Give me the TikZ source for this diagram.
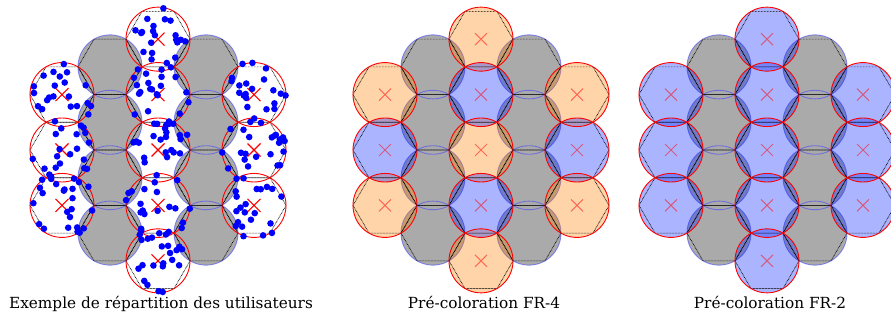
\documentclass[tikz,border=0pt]{standalone}
\usepackage{fontspec}
\usepackage{graphicx}
\newfontfamily\capfont{DejaVu Serif}
\definecolor{cellgray}{RGB}{170,170,170}
\definecolor{fillblue}{rgb}{0.0,0.12,1.0}
\definecolor{fillorange}{rgb}{1.0,0.5,0.0}
\tikzset{
  graycirc/.style={fill=cellgray},
  grayring/.style={draw=blue!75!white, draw opacity=0.55, line width=0.9pt},
  grayhex/.style={fill=cellgray},
  hexedge/.style={draw=black, line width=0.7pt, dash pattern=on 0.7pt off 0.8pt},
  orangecirc/.style={fill=fillorange, fill opacity=0.34},
  bluecirc/.style={fill=fillblue, fill opacity=0.33},
  redcirc/.style={draw=red, line width=0.9pt},
  softx/.style={draw=red, draw opacity=0.5, line width=1pt},
  hardx/.style={draw=red, line width=1.1pt},
  userdot/.style={fill=blue},
  caption/.style={anchor=base, inner sep=0pt, font=\capfont\fontsize{15.3}{18}\selectfont},
}
\newcommand{\hexat}[2]{(#1+32,#2) -- (#1+16,#2+27.713) -- (#1-16,#2+27.713) -- (#1-32,#2) -- (#1-16,#2-27.713) -- (#1+16,#2-27.713) -- cycle}
\def\graylist{48/-83.14, 48/-27.71, 48/27.71, 48/83.14, -48/-83.14, -48/-27.71, -48/27.71, -48/83.14}
\def\orangelist{0/-110.85, 0/0, 0/110.85, 96/-55.43, 96/55.43, -96/-55.43, -96/55.43}
\def\bluelist{0/-55.43, 0/55.43, 96/0, -96/0}
\def\colorlist{0/-110.85, 0/-55.43, 0/0, 0/55.43, 0/110.85, 96/-55.43, 96/0, 96/55.43, -96/-55.43, -96/0, -96/55.43}
\begin{document}
\begin{tikzpicture}[x=1pt,y=-1pt]
\useasboundingbox (0,0) rectangle (891,320);
\clip (0,0) rectangle (891,320);
% ---------- common gray cells for all three panels ----------
\foreach \px in {158,481,767}{
  \begin{scope}[shift={(\px,150)}]
    \foreach \dx/\dy in \graylist { \path[graycirc] (\dx,\dy) circle[radius=32pt]; }
    \foreach \dx/\dy in \graylist { \path[grayhex] \hexat{\dx}{\dy}; }
    \foreach \dx/\dy in \graylist { \path[grayring] (\dx,\dy) circle[radius=32pt]; }
  \end{scope}
}
% ---------- panel 2 : FR-4 ----------
\begin{scope}[shift={(481,150)}]
  \foreach \dx/\dy in \orangelist { \path[orangecirc] (\dx,\dy) circle[radius=32pt]; }
  \foreach \dx/\dy in \bluelist { \path[bluecirc] (\dx,\dy) circle[radius=32pt]; }
\end{scope}
% ---------- panel 3 : FR-2 ----------
\begin{scope}[shift={(767,150)}]
  \foreach \dx/\dy in \colorlist { \path[bluecirc] (\dx,\dy) circle[radius=32pt]; }
\end{scope}
% ---------- hex edges and red circles ----------
\foreach \px in {158,481,767}{
  \begin{scope}[shift={(\px,150)}]
    \foreach \dx/\dy in \graylist { \draw[hexedge] \hexat{\dx}{\dy}; }
    \foreach \dx/\dy in \colorlist { \draw[hexedge] \hexat{\dx}{\dy}; }
    \foreach \dx/\dy in \colorlist { \draw[redcirc] (\dx,\dy) circle[radius=32pt]; }
  \end{scope}
}
% ---------- cross marks ----------
\foreach \px in {481,767}{
  \begin{scope}[shift={(\px,150)}]
    \foreach \dx/\dy in \colorlist {
      \draw[softx] (\dx-6,\dy-6) -- (\dx+6,\dy+6) (\dx-6,\dy+6) -- (\dx+6,\dy-6);
    }
  \end{scope}
}
\begin{scope}[shift={(158,150)}]
  \foreach \dx/\dy in \colorlist {
    \draw[hardx] (\dx-6.5,\dy-6.5) -- (\dx+6.5,\dy+6.5) (\dx-6.5,\dy+6.5) -- (\dx+6.5,\dy-6.5);
  }
  % ---------- users ----------
  \pgfmathsetseed{4242}
  \foreach \dx/\dy in \colorlist {
    \foreach \i in {1,...,22}{
      \pgfmathsetmacro\rr{33*sqrt(rnd)}
      \pgfmathsetmacro\aa{360*rnd}
      \fill[userdot] (\dx,\dy) ++(\aa:\rr) circle[radius=3.3pt];
    }
  }
\end{scope}
% ---------- captions ----------
\node[caption] (cap1) at (161,308.3) {Exemple de répartition des utilisateurs};
\node[caption] (cap2) at (484,308.3) {Pré-coloration FR-4};
\node[caption] (cap3) at (770,308.3) {Pré-coloration FR-2};
\end{tikzpicture}
\end{document}
